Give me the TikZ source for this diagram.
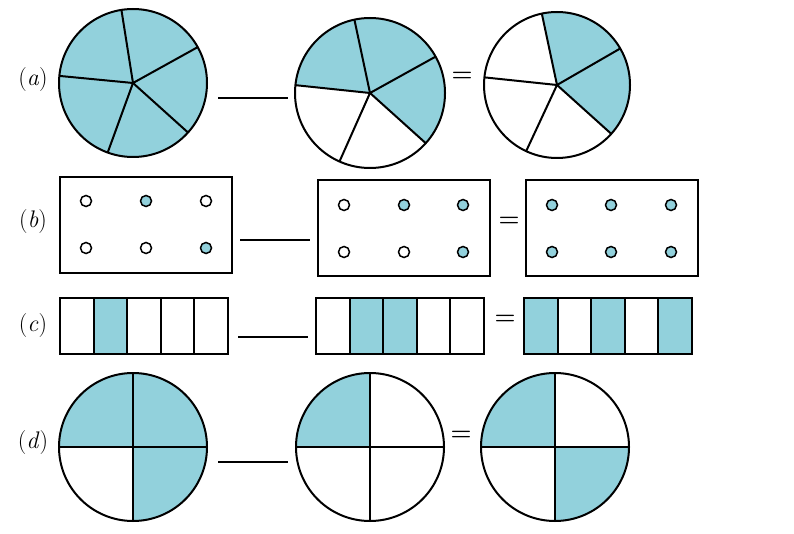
\documentclass[tikz,border=0pt]{standalone}
\usetikzlibrary{calc}
\definecolor{shd}{HTML}{92D1DC}
\tikzset{ln/.style={line width=2pt,black},
 sec/.style={fill=shd},
 lbl/.style={font=\fontsize{24}{26}\selectfont},
 eqs/.style={font=\fontsize{24}{26}\selectfont\bfseries},
 dot/.style={circle,draw,line width=1.5pt,minimum size=11pt,inner sep=0pt},
 minus/.style={line width=1.3pt}}
\newcommand{\pie}[4]{%
 \foreach \a/\b in {#4}{\fill[sec] (#1) -- ++(\a:#2) arc[start angle=\a,end angle=\b,radius=#2] -- cycle;}
 \foreach \a in {#3}{\draw[ln] (#1) -- ++(\a:#2);}
 \draw[ln] (#1) circle[radius=#2];}
\begin{document}
\begin{tikzpicture}[x=1pt,y=1pt,yscale=-1]
\fill[white] (0,0) rectangle (794,534);
\useasboundingbox (0,0) rectangle (794,534);
\node[lbl] (la) at (33,80) {(\textit{a})};
\node[lbl] (lb) at (33,222) {(\textit{b})};
\node[lbl] (lc) at (33,326) {(\textit{c})};
\node[lbl] (ld) at (33,443) {(\textit{d})};
\coordinate (a1) at (133,83); \coordinate (a2) at (370,93); \coordinate (a3) at (557,85);
\pie{a1}{74}{261,331,42,110,185.5}{185.5/261,261/331,331/402,42/110,110/185.5}
\pie{a2}{75}{258,331,42,114,186}{186/258,258/331,331/402}
\pie{a3}{73}{258,330,42,115,186}{258/330,330/402}
\draw[minus] (218,98) -- (288,98);
\node[eqs] (ea) at (462,77) {=};
\foreach \x/\y in {60/177,318/180,526/180}{\draw[ln] (\x,\y) rectangle ++(172,96);}
\foreach \x/\y/\f in {86/201/white,146/201/shd,206/201/white,86/248/white,146/248/white,206/248/shd,
 344/205/white,404/205/shd,463/205/shd,344/252/white,404/252/white,463/252/shd,
 552/205/shd,611/205/shd,671/205/shd,552/252/shd,611/252/shd,671/252/shd}
 {\node[dot,fill=\f] at (\x,\y) {};}
\draw[minus] (240,240) -- (310,240);
\node[eqs] (eb) at (509,222) {=};
\foreach \x/\s in {60/{2},316/{2,3},524/{1,3,5}}{
 \foreach \i in \s {\fill[shd] (\x+33.6*\i-33.6,298) rectangle ++(33.6,56);}
 \foreach \i in {1,...,4}{\draw[ln] (\x+33.6*\i,298) -- ++(0,56);}
 \draw[ln] (\x,298) rectangle ++(168,56);}
\draw[minus] (238,337) -- (308,337);
\node[eqs] (ec) at (505,320) {=};
\coordinate (d1) at (133,447); \coordinate (d2) at (370,447); \coordinate (d3) at (555,447);
\pie{d1}{74}{0,90,180,270}{180/270,270/360,0/90}
\pie{d2}{74}{0,90,180,270}{180/270}
\pie{d3}{74}{0,90,180,270}{180/270,0/90}
\draw[minus] (218,462) -- (288,462);
\node[eqs] (ed) at (461,436) {=};
\end{tikzpicture}
\end{document}
